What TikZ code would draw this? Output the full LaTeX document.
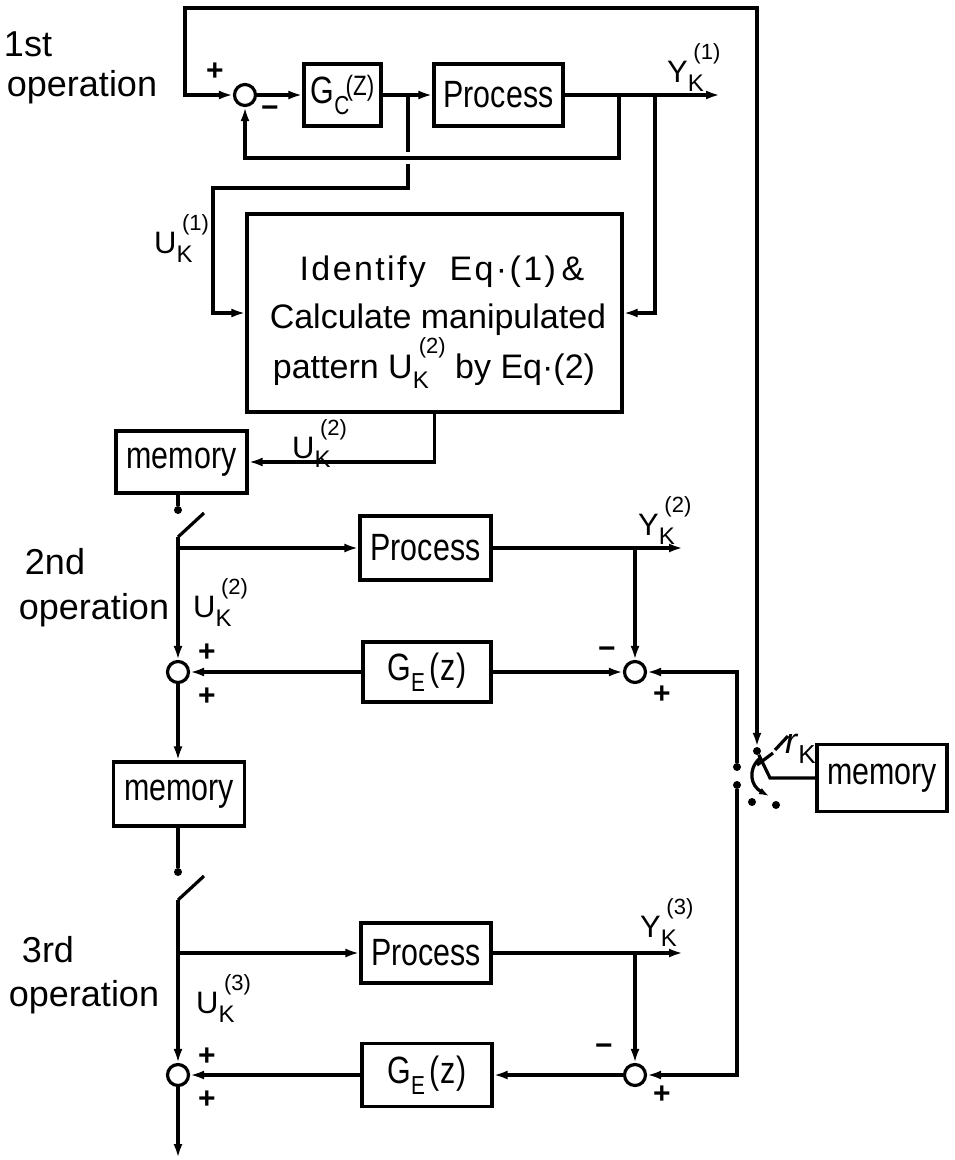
\documentclass[tikz,border=0pt]{standalone}
\usepackage{fontspec}
\setmainfont{Liberation Sans}
\newfontfamily\cond[FakeStretch=0.8]{Liberation Sans}
\newfontfamily\spaced[LetterSpace=7]{Liberation Sans}
\usetikzlibrary{arrows.meta}
\newcommand{\fs}[1]{\fontsize{#1}{#1}\selectfont}
\newcommand{\sig}[3]{#1\makebox[0pt][l]{\raisebox{-0.32em}{\fs{24}#2}}\hspace{0.18em}\raisebox{0.72em}{\fs{22}#3}}
\tikzset{
  wire/.style={line width=3.2pt},
  warr/.style={line width=3.2pt, -{Latex[length=14pt,width=9pt]}},
  blk/.style={draw, line width=3.2pt, inner sep=0pt, font=\cond\fs{38}},
  sumj/.style={draw, circle, line width=3.2pt, minimum size=21pt, inner sep=0pt},
  jdot/.style={circle, fill, minimum size=8pt, inner sep=0pt},
  sgn/.style={font=\bfseries\fs{30}, inner sep=0pt},
  lbl/.style={font=\fs{31}, inner sep=0pt, anchor=base west},
  opl/.style={font=\fs{36}, inner sep=0pt},
  idt/.style={font=\fs{34}, inner sep=0pt, anchor=base}
}
\begin{document}
\begin{tikzpicture}[x=1pt,y=-1pt]
\useasboundingbox (0,0) rectangle (954,1160);

% ---------- 1st operation ----------
\node[opl] (t1a) at (28,44) {1st};
\node[opl] (t1b) at (82,87) {operation};
\node[sumj] (s1) at (245,95) {};
\node[blk, minimum width=77pt, minimum height=62pt] (gc) at (342.5,95)
  {G\makebox[0pt][l]{\raisebox{-0.3em}{\fs{26}C}}\hspace{0.3em}\raisebox{0.22em}{\fs{28}(Z)}};
\node[blk, minimum width=129pt, minimum height=62pt] (p1) at (498.5,95) {Process};
\node[blk, minimum width=375pt, minimum height=198pt] (id) at (434.5,313) {};
\node[idt] (l1) at (442,280) {\spaced Identify\ \ Eq·(1)\,\&};
\node[idt] (l2) at (438,328) {Calculate manipulated};
\node[idt] (l3) at (434,378) {pattern \sig{U}{K}{(2)} by Eq·(2)};
\node[blk, minimum width=131pt, minimum height=62pt] (m1) at (181.5,462) {memory};

\coordinate (y1) at (720,95);
\coordinate (j1) at (408,95);
\coordinate (j2) at (655,95);
\coordinate (j3) at (619,95);

\node[sgn] (pl1) at (215,72) {+};
\node[sgn] (mi1) at (270,112) {−};
\node[lbl] (ly1) at (667,82) {\sig{Y}{K}{(1)}};
\node[lbl] (lu1) at (154,253) {\sig{U}{K}{(1)}};
\node[lbl] (lu2a) at (292,458) {\sig{U}{K}{(2)}};

\draw[warr] (s1.east) -- (gc.west);
\draw[warr] (gc.east) -- (p1.west);
\draw[warr] (p1.east) -- (y1);
\draw[warr] (j3) -- (619,158) -- (245,158) -- (s1.south);
\draw[wire] (j1) -- (408,152);
\draw[warr] (408,164) -- (408,188) -- (213,188) |- (id.west);
\draw[warr] (j2) |- (id.east);
\draw[warr] (id.south) |- (m1.east);

% ---------- right switch ----------
\node[jdot] (pv) at (757,751) {};
\node[jdot] (d2a) at (737,767) {};
\node[jdot] (d2b) at (737,785) {};
\node[jdot] (d4) at (752,802) {};
\node[jdot] (d5) at (776,805) {};
\node[blk, minimum width=130pt, minimum height=67pt] (m3) at (882,778) {memory};
\node[font=\fs{36}, inner sep=0pt, anchor=base west] (rk) at (785,753) {\textit{r}\raisebox{-0.28em}{\fs{26}K}};
\coordinate (kn) at (770,778);
\draw[{Latex[length=14pt,width=9pt]}-{Latex[length=14pt,width=9pt]}, line width=3.2pt]
  (s1.west) -- (185,95) |- (757,8) -- (pv.north);
\draw[wire] (pv) -- (kn) -- (m3.west);
\draw[wire] (757,765) -- (773,753);
\draw[wire] (775,750) -- (788,736);
\draw[line width=3.2pt, -{Latex[length=10pt,width=7pt]}] (760,758) .. controls (747,770) and (751,786) .. (769,796);

% ---------- 2nd operation ----------
\node[opl] (t2a) at (55,562) {2nd};
\node[opl] (t2b) at (94,610) {operation};
\node[jdot] (d1) at (178,510) {};
\coordinate (b1) at (178,537);
\coordinate (br2) at (178,548);
\node[blk, minimum width=131pt, minimum height=64pt] (p2) at (425.5,548) {Process};
\coordinate (y2) at (683,548);
\coordinate (j4) at (635,548);
\node[sumj] (s2l) at (178,672) {};
\node[sumj] (s2r) at (635,672) {};
\node[blk, minimum width=128pt, minimum height=60pt] (ge2) at (427,672)
  {G\raisebox{-0.3em}{\fs{26}E}\hspace{4pt}(\hspace{1pt}z\hspace{1pt})};
\node[blk, minimum width=131pt, minimum height=64pt] (m2) at (179,794) {memory};

\node[lbl] (ly2) at (638,535) {\sig{Y}{K}{(2)}};
\node[lbl] (lu2) at (193,617) {\sig{U}{K}{(2)}};
\node[sgn] (pl2a) at (207,653) {+};
\node[sgn] (pl2b) at (207,697) {+};
\node[sgn] (mi2) at (607,653) {−};
\node[sgn] (pl2c) at (662,695) {+};

\draw[wire] (m1.south -| d1) -- (d1);
\draw[wire] (b1) -- (204,513);
\draw[warr] (b1) -- (s2l.north);
\draw[warr] (br2) -- (p2.west);
\draw[warr] (p2.east) -- (y2);
\draw[warr] (j4) -- (s2r.north);
\draw[warr] (ge2.west) -- (s2l.east);
\draw[warr] (ge2.east) -- (s2r.west);
\draw[warr] (d2a) -- (737,672) -- (s2r.east);
\draw[warr] (s2l.south) -- (m2.north -| s2l);

% ---------- 3rd operation ----------
\node[opl] (t3a) at (48,950) {3rd};
\node[opl] (t3b) at (84,997) {operation};
\node[jdot] (d3) at (178,872) {};
\coordinate (b2) at (178,900);
\coordinate (br3) at (178,953);
\node[blk, minimum width=130pt, minimum height=60pt] (p3) at (426,953) {Process};
\coordinate (y3) at (683,953);
\coordinate (j5) at (635,953);
\node[sumj] (s3l) at (178,1075) {};
\node[sumj] (s3r) at (635,1075) {};
\node[blk, minimum width=130pt, minimum height=63pt] (ge3) at (427,1075)
  {G\raisebox{-0.3em}{\fs{26}E}\hspace{4pt}(\hspace{1pt}z\hspace{1pt})};
\coordinate (out) at (178,1158);

\node[lbl] (ly3) at (640,937) {\sig{Y}{K}{(3)}};
\node[lbl] (lu3) at (196,1013) {\sig{U}{K}{(3)}};
\node[sgn] (pl3a) at (207,1057) {+};
\node[sgn] (pl3b) at (207,1100) {+};
\node[sgn] (mi3) at (604,1050) {−};
\node[sgn] (pl3c) at (662,1095) {+};

\draw[wire] (m2.south -| d3) -- (d3);
\draw[wire] (b2) -- (204,876);
\draw[warr] (b2) -- (s3l.north);
\draw[warr] (br3) -- (p3.west);
\draw[warr] (p3.east) -- (y3);
\draw[warr] (j5) -- (s3r.north);
\draw[warr] (s3r.west) -- (ge3.east);
\draw[warr] (ge3.west) -- (s3l.east);
\draw[warr] (d2b) -- (737,1075) -- (s3r.east);
\draw[warr] (s3l.south) -- (out);
\end{tikzpicture}
\end{document}
